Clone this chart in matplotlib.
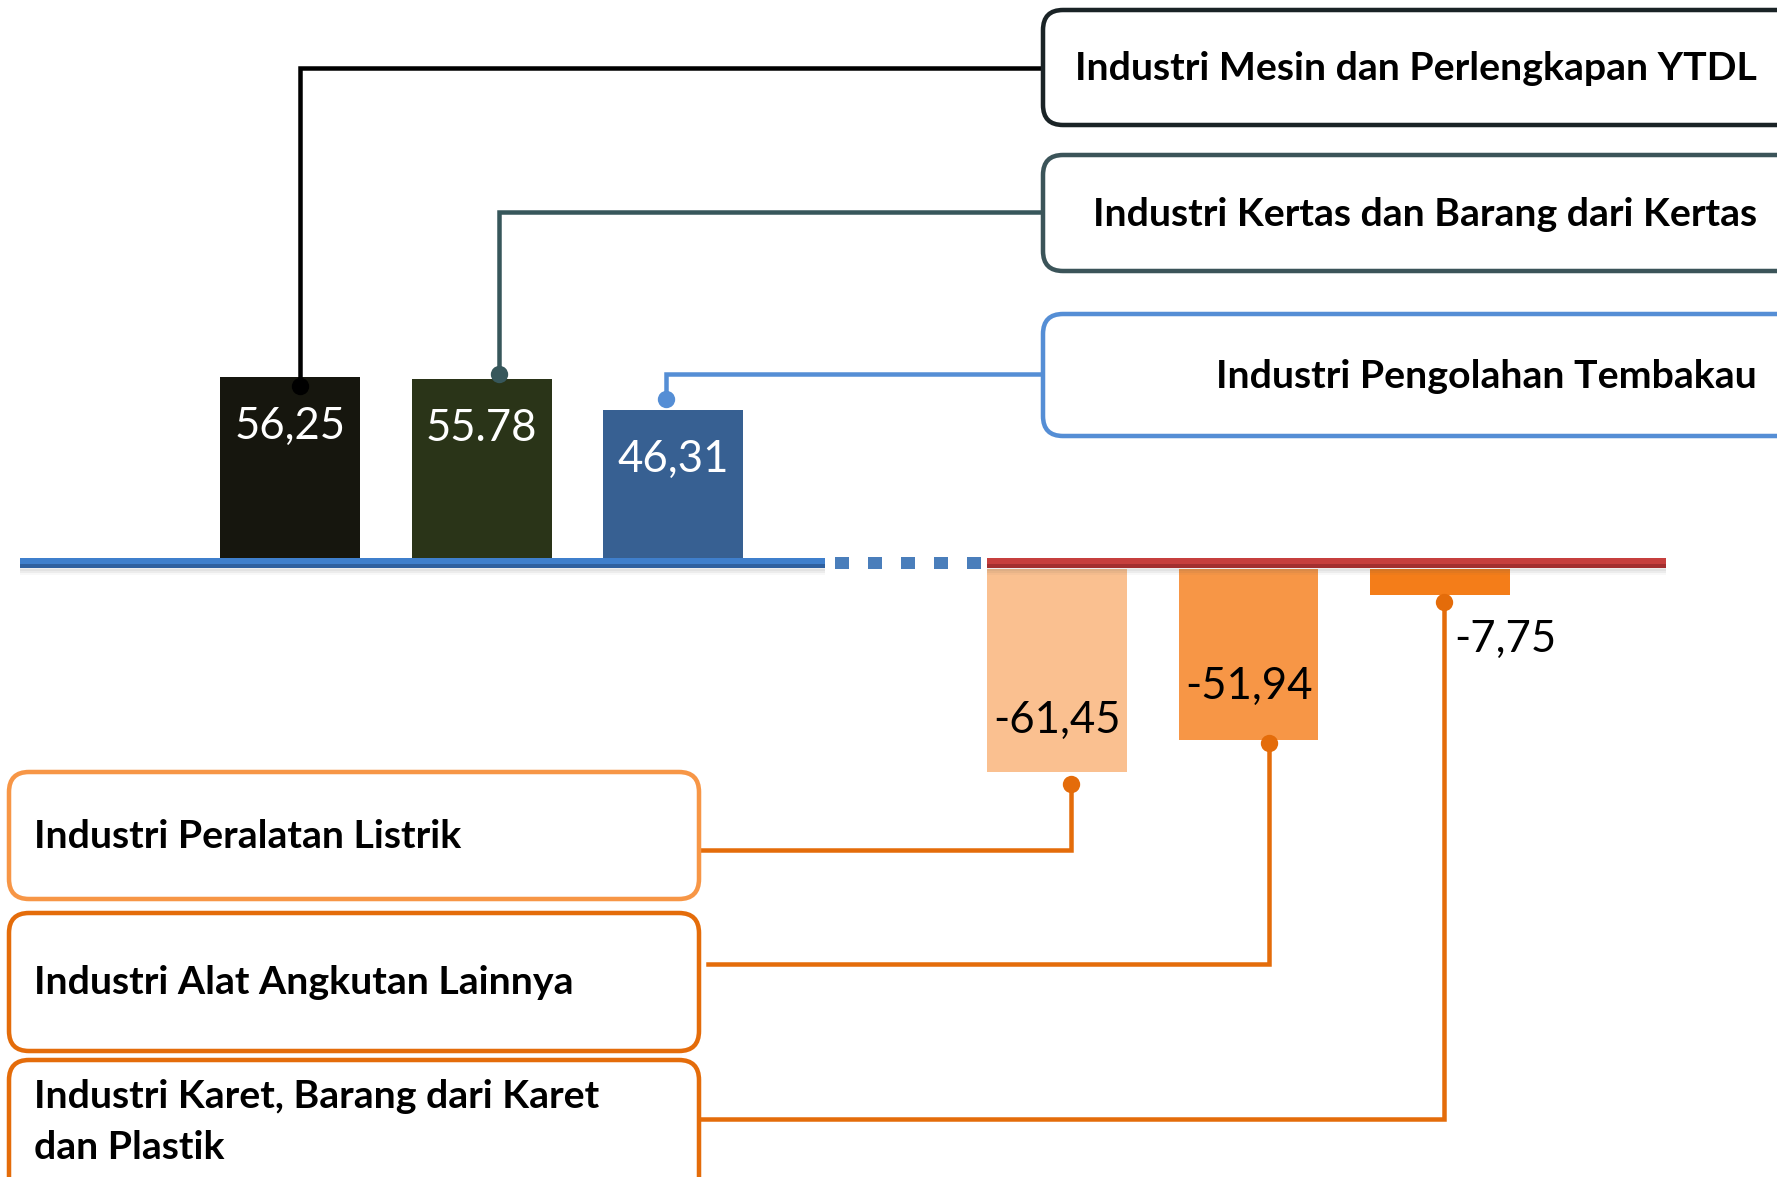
import matplotlib
matplotlib.use("Agg")
import matplotlib.pyplot as plt
from matplotlib.patches import FancyBboxPatch, Rectangle
from matplotlib.transforms import Affine2D

# ---- data -------------------------------------------------------------
pos_names = ["Industri Mesin dan Perlengkapan YTDL",
             "Industri Kertas dan Barang dari Kertas",
             "Industri Pengolahan Tembakau"]
pos_values = [56.25, 55.78, 46.31]
pos_labels = ["56,25", "55.78", "46,31"]

neg_names = ["Industri Peralatan Listrik",
             "Industri Alat Angkutan Lainnya",
             "Industri Karet, Barang dari Karet\ndan Plastik"]
neg_values = [-61.45, -51.94, -7.75]
neg_labels = ["-61,45", "-51,94", "-7,75"]

pos_slots = [0, 1, 2]
neg_slots = [4, 5, 6]

# ---- styling ----------------------------------------------------------
pos_colors = ["#16160e", "#2a3418", "#376092"]
neg_colors = ["#fac090", "#f79646", "#f47d19"]
pos_line_colors = ["#000000", "#37575b", "#558ed5"]
pos_box_edges = ["#1a2326", "#3b5459", "#558ed5"]
neg_line_color = "#e46c0a"
neg_box_edges = ["#f79646", "#e46c0a", "#e46c0a"]

FONT = ["Lato", "DejaVu Sans"]
W, H = 1777, 1177
X0, DX = 290.0, 191.7      # pixel x of slot 0 and pixel width of one slot
Y0, S = 563.0, 3.3         # pixel y of the zero line and pixels per unit


def dx(px):
    return (px - X0) / DX


def dy(py):
    return (Y0 - py) / S


def lw(px):
    return px * 0.72


fig = plt.figure(figsize=(W / 100, H / 100), dpi=100)
ax = fig.add_axes([0, 0, 1, 1])
ax.set_xlim(dx(0), dx(W))
ax.set_ylim(dy(H), dy(0))
ax.axis("off")

# pixel transform (origin top-left) for boxes and decorations
pix = Affine2D().scale(1 / W, -1 / H).translate(0, 1) + fig.transFigure

bar_w = 0.73
gap = 6 / S
ax.bar(pos_slots, pos_values, width=bar_w, color=pos_colors, zorder=2)
ax.bar(neg_slots, neg_values, width=bar_w, bottom=-gap, color=neg_colors,
       zorder=2)

# ---- baselines --------------------------------------------------------
def baseline(x_a, x_b, main, dark):
    xs = [dx(x_a), dx(x_b)]
    for off, a in [(6, 0.10), (8, 0.07), (10, 0.04)]:
        ax.plot(xs, [dy(Y0 + off)] * 2, color="#555555", alpha=a, lw=lw(4),
                solid_capstyle="butt", zorder=2.5)
    ax.plot(xs, [0, 0], color=main, lw=lw(10), solid_capstyle="butt",
            zorder=3)
    ax.plot(xs, [dy(Y0 + 3)] * 2, color=dark, lw=lw(4),
            solid_capstyle="butt", zorder=3.1)


baseline(20, 825, "#3f7fcc", "#2f609f")
baseline(987, 1666, "#c63f3d", "#a32f2f")
for k in range(5):
    ax.add_patch(Rectangle((835 + 33 * k, Y0 - 6), 14, 12,
                           facecolor="#4a7ebb", edgecolor="none",
                           transform=pix, zorder=3))

# ---- value labels -----------------------------------------------------
LABEL_FS = 31.5
for s, v, t in zip(pos_slots, pos_values, pos_labels):
    ax.text(s, v - 15, t, color="white", fontsize=LABEL_FS, family=FONT,
            ha="center", va="center", zorder=5)
ax.text(neg_slots[0], neg_values[0] - gap + 15.5, neg_labels[0],
        color="black", fontsize=LABEL_FS, family=FONT, ha="center",
        va="center", zorder=5)
ax.text(neg_slots[1], neg_values[1] - gap + 16.5, neg_labels[1],
        color="black", fontsize=LABEL_FS, family=FONT, ha="center",
        va="center", zorder=5)
ax.text(neg_slots[2] + 14 / DX, neg_values[2] - gap - 13.5, neg_labels[2],
        color="black", fontsize=LABEL_FS, family=FONT, ha="left",
        va="center", zorder=5)

# ---- connectors -------------------------------------------------------
pos_dot_off = [(10, -9), (17, 5), (-7, 11)]       # px: (right, up)
pos_elbow_y = [68, 212, 374]
pos_end_x = [1045, 1045, 1045]
for s, v, (ox, oy), ey, ex, c in zip(pos_slots, pos_values, pos_dot_off,
                                       pos_elbow_y, pos_end_x,
                                       pos_line_colors):
    x = s + ox / DX
    y = v + oy / S
    ax.plot([x, x, dx(ex)], [y, dy(ey), dy(ey)], color=c, lw=lw(4.5),
            solid_joinstyle="miter", zorder=3.5)
    ax.plot([x], [y], "o", color=c, ms=12.5, mec="none", zorder=6)

neg_dot_off = [(14, -12), (20, -3), (4, -7)]
neg_elbow_y = [850, 964, 1119]
neg_end_x = [697, 708, 697]
for s, v, (ox, oy), ey, ex in zip(neg_slots, neg_values, neg_dot_off,
                                  neg_elbow_y, neg_end_x):
    x = s + ox / DX
    y = v - gap + oy / S
    ax.plot([x, x, dx(ex)], [y, dy(ey), dy(ey)], color=neg_line_color,
            lw=lw(4.5), solid_joinstyle="miter", zorder=3.5)
    ax.plot([x], [y], "o", color=neg_line_color, ms=12.5, mec="none",
            zorder=6)

# ---- label boxes ------------------------------------------------------
def box(x, y, w, h, edge):
    ax.add_patch(FancyBboxPatch((x, y), w, h,
                                boxstyle="round,pad=0,rounding_size=20",
                                facecolor="white", edgecolor=edge,
                                lw=lw(4.5), transform=pix, zorder=4))


BOX_FS = 28.3
top_boxes = [(1043, 10, 115), (1043, 155, 116), (1043, 314, 122)]
top_text_y = [69, 214, 376]
for (bx, by, bh), edge, name, ty in zip(top_boxes, pos_box_edges,
                                        pos_names, top_text_y):
    box(bx, by, 780, bh, edge)
    ax.text(1757, ty, name, transform=pix, ha="right", va="center",
            fontsize=BOX_FS, fontweight="bold", family=FONT, zorder=5)

bottom_boxes = [(9, 772, 127), (9, 913, 138), (9, 1060, 140)]
bottom_text_y = [836, 983, 1122]
for (bx, by, bh), edge, name, ty in zip(bottom_boxes, neg_box_edges,
                                        neg_names, bottom_text_y):
    box(bx, by, 690, bh, edge)
    ax.text(34, ty, name, transform=pix, ha="left", va="center",
            fontsize=BOX_FS, fontweight="bold", family=FONT,
            linespacing=1.55, zorder=5)

fig.savefig("out.png", dpi=100, facecolor="white")
